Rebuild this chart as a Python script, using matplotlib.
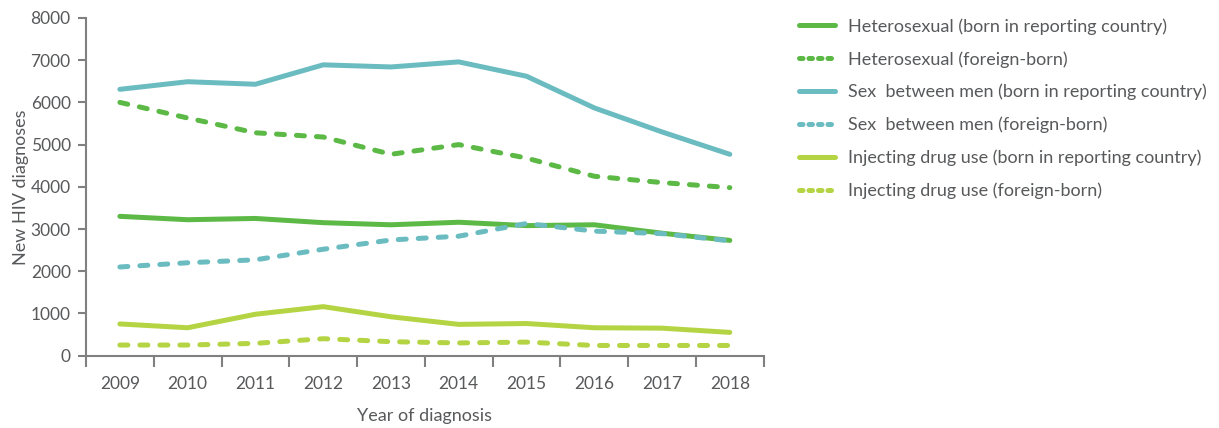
import numpy as np
import matplotlib; matplotlib.use("Agg")
import matplotlib.pyplot as plt
from matplotlib.lines import Line2D

# ─── Data ───
years = ["2009", "2010", "2011", "2012", "2013", "2014", "2015", "2016", "2017", "2018"]
het_born = [3300, 3220, 3250, 3150, 3100, 3160, 3080, 3100, 2900, 2730]
het_foreign = [6000, 5630, 5280, 5180, 4770, 5000, 4680, 4250, 4100, 3980]
msm_born = [6310, 6490, 6430, 6890, 6840, 6960, 6620, 5870, 5300, 4770]
msm_foreign = [2100, 2200, 2270, 2520, 2740, 2830, 3130, 2950, 2890, 2720]
idu_born = [750, 660, 980, 1160, 920, 740, 760, 660, 650, 550]
idu_foreign = [250, 250, 290, 400, 330, 300, 320, 240, 240, 240]

labels = [
    "Heterosexual (born in reporting country)",
    "Heterosexual (foreign-born)",
    "Sex  between men (born in reporting country)",
    "Sex  between men (foreign-born)",
    "Injecting drug use (born in reporting country)",
    "Injecting drug use (foreign-born)",
]

GREEN = "#5cb946"
TEAL = "#6bbcc1"
LIME = "#b5d444"
TEXT = "#58595b"
AXIS = "#808080"

plt.rcParams["font.family"] = ["Lato", "DejaVu Sans"]

fig = plt.figure(figsize=(12.19, 4.28), dpi=100)
ax = fig.add_axes([86 / 1219, 1 - 355.6 / 428, (763.7 - 86) / 1219, (355.6 - 18) / 428])

x = np.arange(len(years))
series = [
    (het_born, GREEN, False),
    (het_foreign, GREEN, True),
    (msm_born, TEAL, False),
    (msm_foreign, TEAL, True),
    (idu_born, LIME, False),
    (idu_foreign, LIME, True),
]
handles = []
for (vals, col, dashed), lab in zip(series, labels):
    if dashed:
        ax.plot(x, vals, color=col, lw=3.6, dashes=(1.6, 2.4),
                dash_capstyle="round", solid_joinstyle="round")
        h = Line2D([0], [0], color=col, lw=3.6, dashes=(0.7, 1.2),
                   dash_capstyle="round")
    else:
        ax.plot(x, vals, color=col, lw=3.6, solid_capstyle="round",
                solid_joinstyle="round")
        h = Line2D([0], [0], color=col, lw=3.6, solid_capstyle="round")
    handles.append(h)

ax.set_xlim(-0.5, len(years) - 0.5)
ax.set_ylim(0, 8000)
ax.set_yticks(np.arange(0, 8001, 1000))
ax.set_xticks(x)
ax.set_xticklabels(years)
ax.set_xticks(np.arange(-0.5, len(years), 1.0), minor=True)
ax.tick_params(axis="x", which="major", length=0, pad=15, labelsize=12.5, labelcolor=TEXT)
ax.tick_params(axis="x", which="minor", length=8, width=1.5, color=AXIS)
ax.tick_params(axis="y", length=6, width=1.5, color=AXIS, labelsize=12.5, labelcolor=TEXT, pad=5)

for s in ["top", "right"]:
    ax.spines[s].set_visible(False)
for s in ["left", "bottom"]:
    ax.spines[s].set_color(AXIS)
    ax.spines[s].set_linewidth(1.5)

ax.set_xlabel("Year of diagnosis", fontsize=13, color=TEXT, labelpad=11)
ax.set_ylabel("New HIV diagnoses", fontsize=13, color=TEXT, labelpad=1)

leg = fig.legend(handles, labels, loc="upper left", bbox_to_anchor=(783 / 1219, 1 - 2 / 428),
                 frameon=False, fontsize=13, handlelength=2.0, handletextpad=0.7,
                 labelspacing=0.9, labelcolor=TEXT)

fig.savefig("out.png", dpi=100)
